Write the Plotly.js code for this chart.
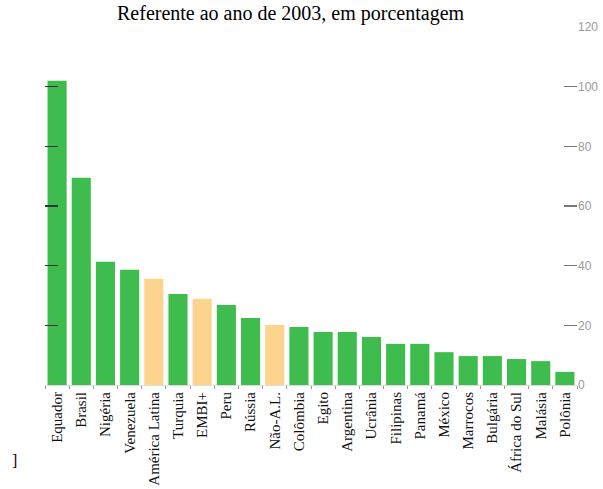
<!DOCTYPE html>
<html>
<head>
<meta charset="utf-8">
<script src="https://cdn.plot.ly/plotly-3.0.1.min.js"></script>
<style>html,body{margin:0;padding:0;background:#fff;}#chart{width:603px;height:489px;}</style>
</head>
<body>
<div id="chart"></div>
<script>
const countries = ["Equador","Brasil","Nigéria","Venezuela","América Latina","Turquia","EMBI+","Peru","Rússia","Não-A.L.","Colômbia","Egito","Argentina","Ucrânia","Filipinas","Panamá","México","Marrocos","Bulgária","África do Sul","Malásia","Polônia"];
const values = [102, 69.5, 41.3, 38.6, 35.6, 30.5, 28.9, 26.8, 22.5, 20.1, 19.4, 17.8, 17.8, 16.1, 13.8, 13.8, 11, 9.7, 9.7, 8.7, 8, 4.4];
const aggregates = ["América Latina","EMBI+","Não-A.L."];
const yTicks = [0, 20, 40, 60, 80, 100, 120];
const titleText = "Referente ao ano de 2003, em porcentagem";

const green = "#3fbc4e";
const orange = "#fcd48e";
const colors = countries.map(c => aggregates.includes(c) ? orange : green);

const data = [
  {type: "bar", x: countries, y: values, marker: {color: colors, line: {width: 0}}, hoverinfo: "x+y", yaxis: "y"},
  {type: "scatter", x: [countries[0]], y: [0], yaxis: "y2", mode: "lines", line: {width: 0}, hoverinfo: "skip", showlegend: false}
];

const layout = {
  width: 603, height: 489,
  margin: {l: 45, r: 26, t: 27, b: 104},
  paper_bgcolor: "#fff", plot_bgcolor: "#fff",
  showlegend: false,
  bargap: 0.21,
  xaxis: {
    type: "category",
    range: [-0.5, countries.length - 0.5],
    tickangle: -90,
    tickfont: {family: "Liberation Serif, Times New Roman, serif", size: 15, color: "#111"},
    ticks: "outside", ticklen: 3, tickcolor: "#999", tickson: "boundaries",
    showline: true, linecolor: "#ddd", linewidth: 1,
    showgrid: false, zeroline: false, fixedrange: true
  },
  yaxis: {
    side: "right", range: [0, 120], tickvals: yTicks,
    ticks: "inside", ticklen: 13, tickcolor: "#777", tickwidth: 1.5,
    tickfont: {family: "Liberation Sans, Arial, sans-serif", size: 12, color: "#9a9a9a"},
    showgrid: false, zeroline: false, showline: false, fixedrange: true
  },
  yaxis2: {
    overlaying: "y", side: "left", range: [0, 120], tickvals: yTicks,
    ticks: "inside", ticklen: 13, tickcolor: "#333", tickwidth: 1.5,
    showticklabels: false, showgrid: false, zeroline: false, showline: false,
    layer: "above traces", fixedrange: true
  },
  annotations: [
    {text: titleText, xref: "paper", yref: "paper", x: 0.463, y: 1 + 27 / 358, xanchor: "center", yanchor: "top", showarrow: false,
     font: {family: "Liberation Serif, Times New Roman, serif", size: 20, color: "#000"}},
    {text: "]", xref: "paper", yref: "paper", x: -0.065, y: 0, yshift: -86, xanchor: "left", yanchor: "bottom", showarrow: false,
     font: {family: "Liberation Serif, Times New Roman, serif", size: 16, color: "#000"}}
  ]
};

Plotly.newPlot("chart", data, layout, {displayModeBar: false, staticPlot: true});
</script>
</body>
</html>
